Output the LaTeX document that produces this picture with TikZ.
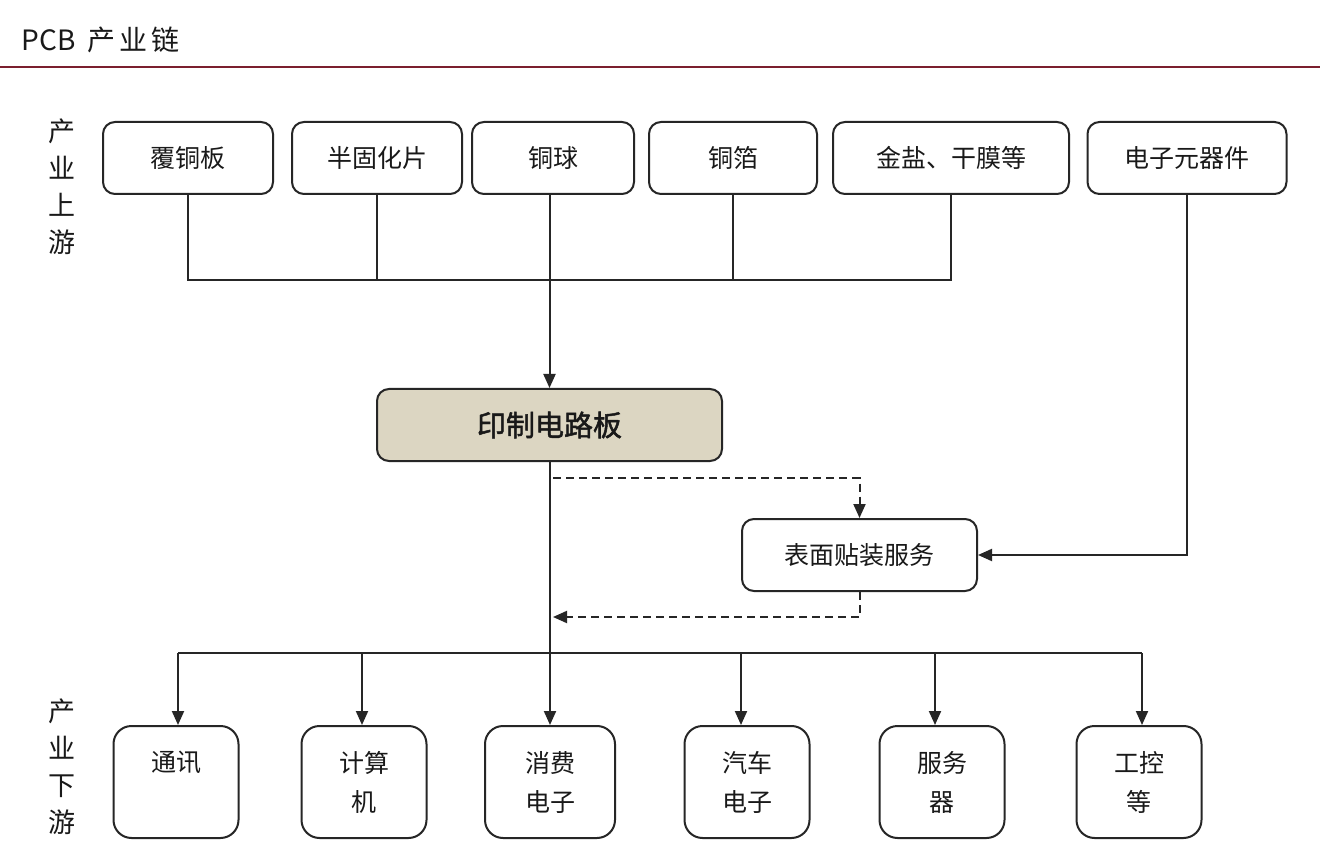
\documentclass[tikz,border=0pt]{standalone}
\usepackage{fontspec}
\setmainfont{Noto Sans CJK SC}
\newfontfamily\cjkheavy[FakeBold=1.6]{Noto Sans CJK SC}
\usetikzlibrary{arrows.meta}
\definecolor{hdred}{HTML}{7B1F2E}
\definecolor{pcbfill}{HTML}{DCD6C2}
\definecolor{edge}{HTML}{262626}
\begin{document}
\begin{tikzpicture}[x=1pt,y=-1pt,
  box/.style={draw=edge,line width=2pt,rounded corners=12pt,fill=white,
    font=\fontsize{25}{39}\selectfont,text=black!90,align=center,inner sep=0pt},
  topbox/.style={box,minimum height=72},
  botbox/.style={box,minimum width=125,minimum height=112,rounded corners=18pt},
  conn/.style={draw=edge,line width=2pt},
  arr/.style={conn,-{Triangle[width=12pt,length=14pt]}},
  dsh/.style={arr,dash pattern=on 8pt off 5pt},
  side/.style={font=\fontsize{27}{37}\selectfont,align=center,text=black!90}]
\useasboundingbox (0,0) rectangle (1320,858);
\fill[white] (0,0) rectangle (1320,858);
% header
\node[anchor=west,font=\fontsize{28}{32}\selectfont,text=black!90] (title) at (18,40) {PCB\kern 12pt 产\kern 4pt 业\kern 4pt 链};
\draw[hdred,line width=2pt] (0,67) -- (1320,67);
% side labels
\node[side] (up) at (62,187) {产\\业\\上\\游};
\node[side] (down) at (62,767) {产\\业\\下\\游};
% upstream boxes
\node[topbox,minimum width=170] (a) at (188,158) {覆铜板};
\node[topbox,minimum width=170] (b) at (377,158) {半固化片};
\node[topbox,minimum width=162] (c) at (553,158) {铜球};
\node[topbox,minimum width=168] (d) at (733,158) {铜箔};
\node[topbox,minimum width=236] (e) at (951,158) {金盐、干膜等};
\node[topbox,minimum width=199] (f) at (1187,158) {电子元器件};
% pcb
\node[box,minimum width=345,minimum height=72,fill=pcbfill,font=\fontsize{29}{34}\cjkheavy] (pcb) at (549.5,425) {印制电路板};
% smt
\node[topbox,minimum width=235] (smt) at (859.5,555) {表面贴装服务};
% downstream boxes
\node[botbox] (o1) at (176,782) {通讯\\\phantom{通}};
\node[botbox] (o2) at (364,782) {计算\\机};
\node[botbox,minimum width=130] (o3) at (550,782) {消费\\电子};
\node[botbox] (o4) at (747,782) {汽车\\电子};
\node[botbox] (o5) at (942,782) {服务\\器};
\node[botbox] (o6) at (1139,782) {工控\\等};
% helper coordinates
\coordinate (bus1) at (0,280);
\coordinate (bus2) at (0,653);
\coordinate (dy1) at (553,478);
\coordinate (dy2) at (553,617);
% upstream bus
\draw[conn] (a.south) |- (e.south |- bus1) -- (e.south);
\draw[conn] (b.south) -- (b.south |- bus1);
\draw[conn] (d.south) -- (d.south |- bus1);
\draw[arr] (c.south -| pcb.north) -- (pcb.north);
\draw[arr] (f.south) |- (smt.east);
% pcb to downstream
\draw[conn] (pcb.south) -- (pcb.south |- bus2);
\draw[conn] ([xshift=2pt]o1.north |- bus2) -- ([xshift=3pt]o6.north |- bus2);
\draw[arr] ([xshift=2pt]o1.north |- bus2) -- ([xshift=2pt]o1.north);
\draw[arr] ([xshift=-2pt]o2.north |- bus2) -- ([xshift=-2pt]o2.north);
\draw[arr] (o3.north |- bus2) -- (o3.north);
\draw[arr] ([xshift=-6pt]o4.north |- bus2) -- ([xshift=-6pt]o4.north);
\draw[arr] ([xshift=-7pt]o5.north |- bus2) -- ([xshift=-7pt]o5.north);
\draw[arr] ([xshift=3pt]o6.north |- bus2) -- ([xshift=3pt]o6.north);
% dashed smt loop
\draw[dsh] (dy1) -| (smt.north);
\draw[dsh] (smt.south) |- (dy2);
\end{tikzpicture}
\end{document}
